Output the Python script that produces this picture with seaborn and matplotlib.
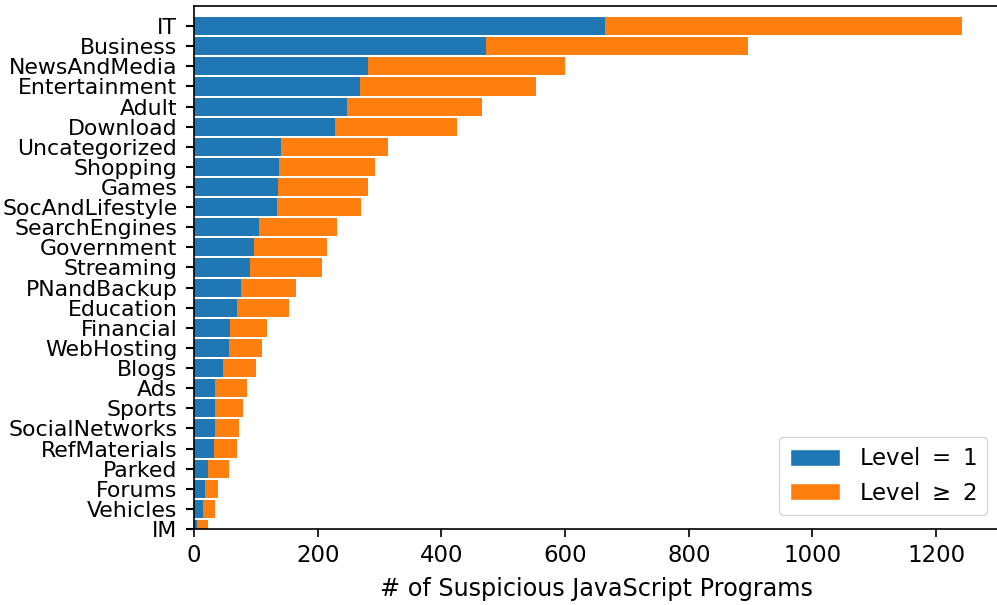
import matplotlib
matplotlib.use("Agg")
import matplotlib.pyplot as plt
from matplotlib.patches import Patch
import seaborn as sns
import pandas as pd

# Website categories, top to bottom
categories = [
    "IT", "Business", "NewsAndMedia", "Entertainment", "Adult", "Download",
    "Uncategorized", "Shopping", "Games", "SocAndLifestyle", "SearchEngines",
    "Government", "Streaming", "PNandBackup", "Education", "Financial",
    "WebHosting", "Blogs", "Ads", "Sports", "SocialNetworks", "RefMaterials",
    "Parked", "Forums", "Vehicles", "IM",
]

# Programs at obfuscation level 1
level_1 = [665, 472, 281, 269, 247, 228, 141, 137, 136, 134, 105, 97, 91,
           76, 70, 58, 57, 47, 34, 34, 34, 32, 23, 18, 15, 5]

# Programs at obfuscation level 2 or more
level_2_plus = [577, 424, 319, 284, 219, 197, 173, 156, 145, 136, 126, 118,
                116, 89, 84, 60, 53, 53, 52, 45, 39, 38, 34, 21, 19, 18]

legend_labels = [r"Level $=$ 1", r"Level $\geq$ 2"]
blue, orange = "#1f77b4", "#ff7f0e"

df = pd.DataFrame({
    "category": categories,
    "level_1": level_1,
    "total": [a + b for a, b in zip(level_1, level_2_plus)],
})

sns.set_style("ticks")
plt.rcParams.update({
    "font.family": ["DejaVu Sans"],
    "font.size": 16,
    "text.color": "black",
    "axes.labelcolor": "black",
    "axes.edgecolor": "black",
    "axes.linewidth": 1.2,
    "xtick.color": "black",
    "ytick.color": "black",
    "xtick.labelsize": 16.5,
    "ytick.labelsize": 15.8,
})

fig = plt.figure(figsize=(9.97, 6.05), dpi=100)
ax = fig.add_axes([194 / 997, 76 / 605, 804 / 997, 523 / 605])

# Stacked bars: full total in orange, level-1 share drawn over it in blue
sns.barplot(data=df, y="category", x="total", orient="h", color=orange,
            saturation=1, width=0.9, linewidth=0, ax=ax, order=categories)
sns.barplot(data=df, y="category", x="level_1", orient="h", color=blue,
            saturation=1, width=0.9, linewidth=0, ax=ax, order=categories)

ax.set_xlim(0, 1300)
ax.set_ylim(len(categories) - 1, -1)
ax.set_xticks([0, 200, 400, 600, 800, 1000, 1200])
ax.set_ylabel("")
ax.set_xlabel("# of Suspicious JavaScript Programs", fontsize=17.2, labelpad=7)
ax.tick_params(axis="y", length=6, width=1.5, pad=6)
ax.tick_params(axis="x", length=6, width=1.2, pad=5)

handles = [Patch(facecolor=blue, label=legend_labels[0]),
           Patch(facecolor=orange, label=legend_labels[1])]
ax.legend(handles=handles, loc="lower right", frameon=True, fontsize=16.5,
          handlelength=2.2, handleheight=0.75, edgecolor="0.8",
          fancybox=True, borderpad=0.45, borderaxespad=0,
          bbox_to_anchor=(0.986, 0.027))

fig.savefig("out.png", dpi=100)
